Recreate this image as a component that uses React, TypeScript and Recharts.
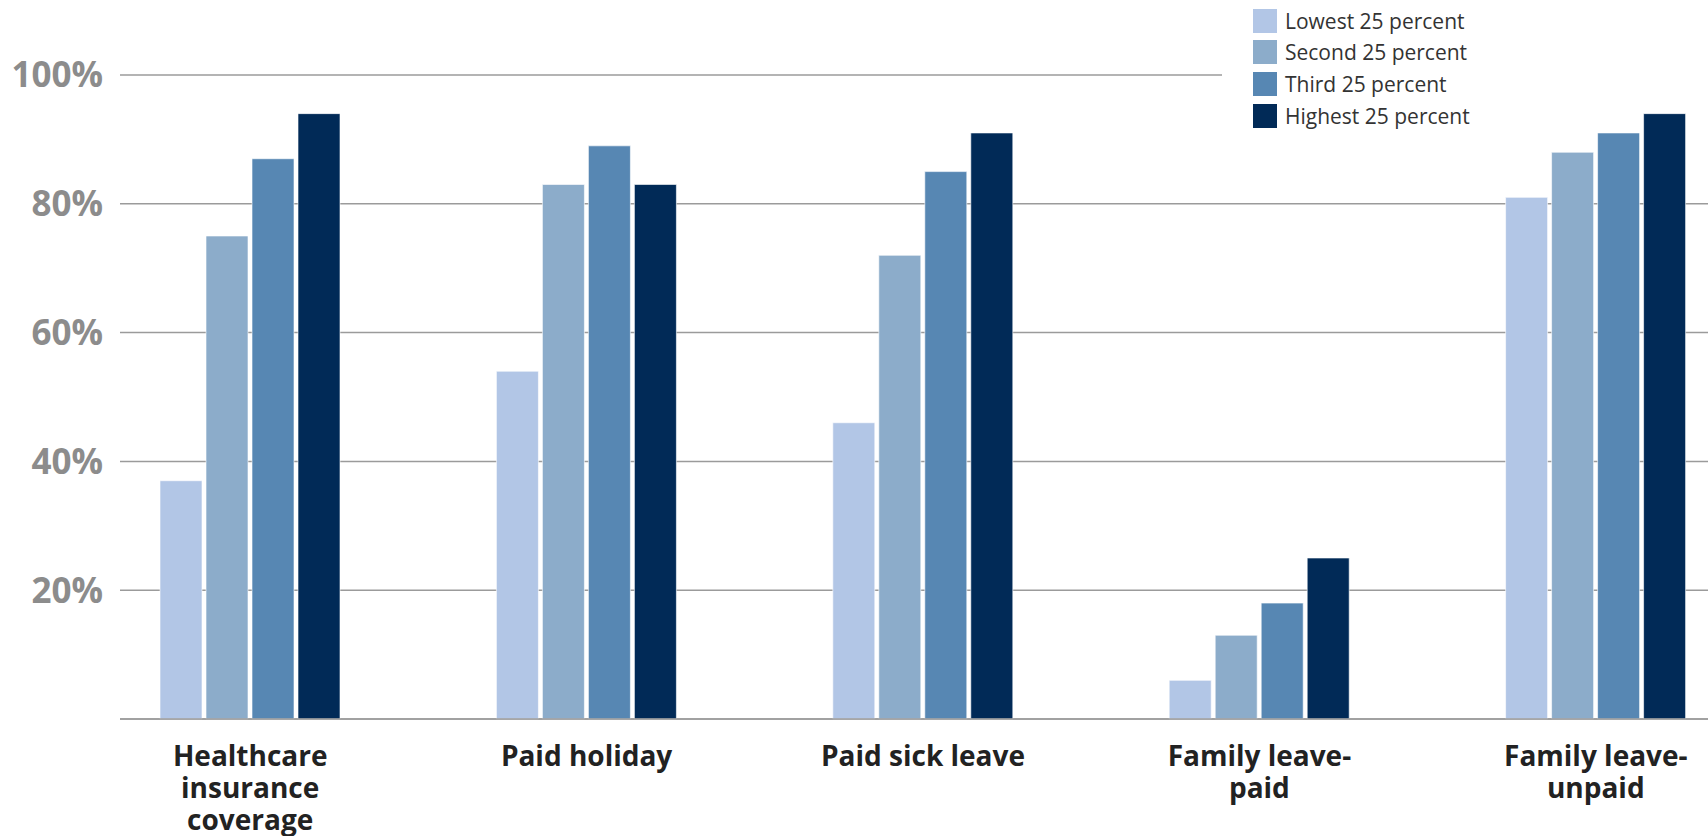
import { BarChart, Bar, XAxis, YAxis, CartesianGrid } from "recharts";

const categories = [
  "Healthcare\ninsurance\ncoverage",
  "Paid holiday",
  "Paid sick leave",
  "Family leave-\npaid",
  "Family leave-\nunpaid",
];
const lowest = [37, 54, 46, 6, 81];
const second = [75, 83, 72, 13, 88];
const third = [87, 89, 85, 18, 91];
const highest = [94, 83, 91, 25, 94];
const yTicks = [20, 40, 60, 80, 100];

const series = [
  { key: "lowest", name: "Lowest 25 percent", color: "#b2c6e6" },
  { key: "second", name: "Second 25 percent", color: "#8cacca" },
  { key: "third", name: "Third 25 percent", color: "#5787b3" },
  { key: "highest", name: "Highest 25 percent", color: "#012a57" },
];

const data = categories.map((category, i) => ({
  category,
  lowest: lowest[i],
  second: second[i],
  third: third[i],
  highest: highest[i],
}));

const FONT = "'Open Sans', sans-serif";

function CategoryTick(props: any) {
  const { x, y, payload } = props;
  const lines = String(payload.value).split("\n");
  return (
    <text
      x={x}
      y={y}
      textAnchor="middle"
      fill="#222"
      fontSize={28}
      fontWeight={700}
      fontFamily={FONT}
    >
      {lines.map((line, i) => (
        <tspan key={i} x={x} dy={i === 0 ? 47 : 32}>
          {line}
        </tspan>
      ))}
    </text>
  );
}

// white box hides the 100% gridline behind the legend, like the original
function LegendBox() {
  return (
    <div
      style={{
        position: "absolute",
        top: 0,
        left: 1222,
        width: 486,
        height: 96,
        background: "#fff",
        paddingTop: 5,
        paddingLeft: 31,
        boxSizing: "border-box",
        fontFamily: FONT,
      }}
    >
      {series.map((s) => (
        <div
          key={s.key}
          style={{ display: "flex", alignItems: "center", height: 31.6 }}
        >
          <span
            style={{
              width: 24,
              height: 24,
              background: s.color,
              display: "inline-block",
              marginRight: 8,
            }}
          />
          <span style={{ fontSize: 21, color: "#333" }}>{s.name}</span>
        </div>
      ))}
    </div>
  );
}

export default function App() {
  return (
    <div style={{ position: "relative", width: 1708, height: 836, overflow: "hidden", background: "#fff" }}>
      <style>{"body{margin:0}"}</style>
      <BarChart
        width={1708}
        height={836}
        data={data}
        margin={{ top: 75, right: 0, bottom: 0, left: 0 }}
        barCategoryGap={78}
        barGap={4}
      >
        <CartesianGrid vertical={false} stroke="#9b9b9b" strokeWidth={1.5} />
        <XAxis
          dataKey="category"
          height={117}
          padding={{ left: -38, right: -56 }}
          axisLine={{ stroke: "#9b9b9b", strokeWidth: 1.5 }}
          tickLine={false}
          tickSize={0}
          tickMargin={0}
          interval={0}
          tick={<CategoryTick />}
        />
        <YAxis
          width={120}
          domain={[0, 100]}
          ticks={yTicks}
          axisLine={false}
          tickLine={false}
          tickSize={0}
          tickMargin={17}
          tickFormatter={(v) => `${v}%`}
          tick={{ fill: "#8c8c8c", fontSize: 35, fontWeight: 700, fontFamily: FONT }}
        />
        {series.map((s) => (
          <Bar
            key={s.key}
            dataKey={s.key}
            name={s.name}
            fill={s.color}
            stroke="rgba(255,255,255,0.6)"
            strokeWidth={1}
            isAnimationActive={false}
          />
        ))}
      </BarChart>
      <LegendBox />
    </div>
  );
}
